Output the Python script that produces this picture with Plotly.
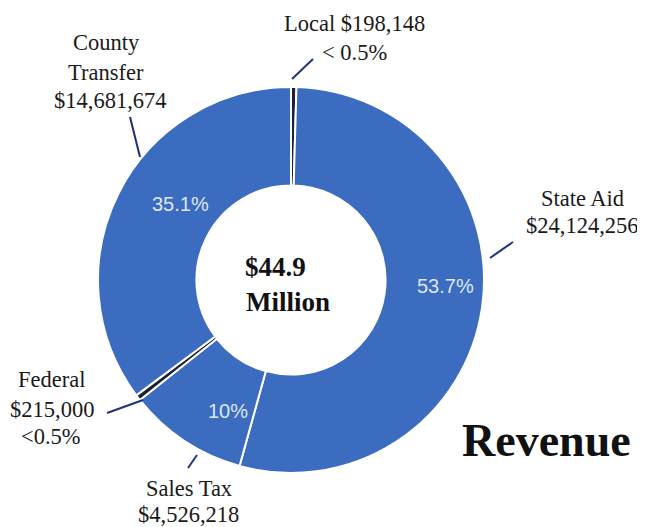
import plotly.graph_objects as go

# Data (clockwise from 12 o'clock)
labels = ["Local", "State Aid", "Sales Tax", "Federal", "County Transfer"]
amounts = ["$198,148", "$24,124,256", "$4,526,218", "$215,000", "$14,681,674"]
shares = [0.45, 53.7, 10.0, 0.48, 35.1]           # slice sizes (% of $44.9M)
pct_text = ["", "53.7%", "10%", "", "35.1%"]
small_text = ["< 0.5%", "<0.5%"]
total_lines = ["$44.9", "Million"]
title_text = "Revenue"

blue = "#3b6cc0"
dark = "#1c2233"
colors = [dark, blue, blue, dark, blue]

W, H = 637, 519     # page has an 8px body margin
OFF = 8

def px(x):
    return (x - OFF) / W

def py(y):
    return 1 - (y - OFF) / H

cx, cy, R = 291, 280, 193

fig = go.Figure()
fig.add_trace(go.Pie(
    labels=labels, values=shares, textinfo="none",
    hole=0.49, sort=False, direction="clockwise", rotation=0,
    marker=dict(colors=colors, line=dict(color="white", width=2)),
    domain=dict(x=[px(cx - R), px(cx + R)], y=[py(cy + R), py(cy - R)]),
    showlegend=False, hoverinfo="label+value",
))

serif = "Liberation Serif"
lab_font = dict(family=serif, size=22.5, color="#1a1a1a")

def ann(x, y, text, xanchor="center", **kw):
    fig.add_annotation(x=px(x), y=py(y), xref="paper", yref="paper",
                       text=text, showarrow=False, align="center",
                       xanchor=xanchor, yanchor="middle", **kw)

# percentage labels inside the ring
pfont = dict(family="Liberation Sans", size=20, color="#dde7f6")
ann(446, 286, pct_text[1], font=pfont)
ann(228, 411, pct_text[2], font=pfont)
ann(180, 204, pct_text[4], font=pfont)

ann(354, 24, f"{labels[0]} {amounts[0]}", font=lab_font)
ann(354, 52, small_text[0], font=lab_font)
ann(106, 42, "County", font=lab_font)
ann(106, 72, "Transfer", font=lab_font)
ann(110, 100, amounts[4], font=lab_font)
ann(582, 198, labels[1], font=lab_font)
ann(582, 225, amounts[1], font=lab_font)
ann(51, 379, labels[3], font=lab_font)
ann(52, 409, amounts[3], font=lab_font)
ann(51, 436, small_text[1], font=lab_font)
ann(189, 488, labels[2], font=lab_font)
ann(189, 514, amounts[2], font=lab_font)

cfont = dict(family=serif, size=27, color="#111")
ann(243, 267, f"<b>{total_lines[0]}</b>", xanchor="left", font=cfont)
ann(244, 302, f"<b>{total_lines[1]}</b>", xanchor="left", font=cfont)
ann(546, 440, f"<b>{title_text}</b>", font=dict(family=serif, size=46, color="#111"))

lc = "#22327a"
def line(x0, y0, x1, y1):
    fig.add_shape(type="line", xref="paper", yref="paper",
                  x0=px(x0), y0=py(y0), x1=px(x1), y1=py(y1),
                  line=dict(color=lc, width=2))

line(292, 79, 313, 59)
line(130, 117, 140, 157)
line(490, 258, 513, 242)
line(107, 413, 143, 400)
line(188, 468, 197, 455)

fig.update_layout(width=W, height=H, margin=dict(l=0, r=0, t=0, b=0),
                  paper_bgcolor="white", plot_bgcolor="white")
fig.write_html("out.html")
